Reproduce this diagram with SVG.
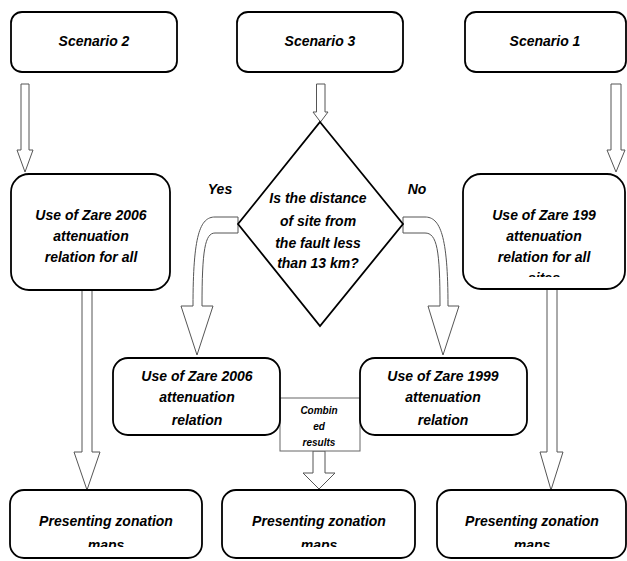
<svg xmlns="http://www.w3.org/2000/svg" width="627" height="561" viewBox="0 0 627 561">
<style>
.box{fill:#fff;stroke:#000;stroke-width:1.8}
.arr{fill:#fff;stroke:#555;stroke-width:1}
.t{font-family:"Liberation Sans",Arial,sans-serif;font-weight:bold;font-style:italic;font-size:14px;fill:#000;text-anchor:middle}
.s{font-family:"Liberation Sans Narrow","Liberation Sans",Arial,sans-serif;font-weight:bold;font-style:italic;font-size:10px;fill:#000;text-anchor:middle}
</style>
<defs>
<clipPath id="cL"><rect x="11" y="174" width="159" height="98"/></clipPath>
<clipPath id="cR"><rect x="463" y="174" width="163" height="103"/></clipPath>
<clipPath id="cB"><rect x="0" y="490" width="627" height="57"/></clipPath>
</defs>
<g id="connectors">
<path class="arr" d="M21,84 L29,84 L29,150 L33,150 L25,172 L17,150 L21,150 Z"/>
<path class="arr" d="M316.5,84 L325,84 L325,112 L328,112 L320.5,122 L313,112 L316.5,112 Z"/>
<path class="arr" d="M611,84 L621,84 L621,150 L625,150 L616,172 L607,150 L611,150 Z"/>
<path class="arr" d="M238,217 L215,217 C200,217 193,235 193,306 L181,306 L197,355 L213,306 L202,306 C202,250 205,233 215,233 L238,233 Z"/>
<path class="arr" d="M403,217 L425,217 C440,217 448,235 448,306 L459,306 L443,355 L428,306 L440,306 C440,250 437,233 425,233 L403,233 Z"/>
<path class="arr" d="M82,290 L92,290 L92,452 L100,452 L87,490 L74,452 L82,452 Z"/>
<path class="arr" d="M547,289 L557,289 L557,452 L563,452 L551,490 L540,452 L547,452 Z"/>
<path class="arr" d="M313,451 L325,451 L325,473 L335,473 L319,489 L303,473 L313,473 Z"/>
</g>
<g id="combined">
<rect x="280" y="398" width="80" height="53" fill="#fff" stroke="#666" stroke-width="1"/>
<text class="s" x="319" y="414">Combin</text>
<text class="s" x="319" y="430">ed</text>
<text class="s" x="319" y="446">results</text>
</g>
<g id="scenario2">
<rect class="box" x="11" y="12" width="166" height="60" rx="11"/>
<text class="t" x="94" y="46">Scenario 2</text>
</g>
<g id="scenario3">
<rect class="box" x="237" y="12" width="166" height="60" rx="11"/>
<text class="t" x="320" y="46">Scenario 3</text>
</g>
<g id="scenario1">
<rect class="box" x="465" y="12" width="161" height="60" rx="11"/>
<text class="t" x="545" y="46">Scenario 1</text>
</g>
<g id="zare2006all">
<rect class="box" x="11" y="174" width="159" height="116" rx="18"/>
<g clip-path="url(#cL)">
<text class="t" x="91" y="220">Use of Zare 2006</text>
<text class="t" x="91" y="241">attenuation</text>
<text class="t" x="91" y="262">relation for all</text>
<text class="t" x="91" y="283">sites</text>
</g>
</g>
<g id="zare1999all">
<rect class="box" x="463" y="174" width="162" height="115" rx="18"/>
<g clip-path="url(#cR)">
<text class="t" x="544" y="220">Use of Zare 199</text>
<text class="t" x="544" y="241">attenuation</text>
<text class="t" x="544" y="262">relation for all</text>
<text class="t" x="544" y="283">sites</text>
</g>
</g>
<g id="decision">
<polygon points="320,122 403,224 320,326 238,224" fill="#fff" stroke="#000" stroke-width="1.8"/>
<text class="t" x="318" y="203">Is the distance</text>
<text class="t" x="318" y="226">of site from</text>
<text class="t" x="318" y="248">the fault less</text>
<text class="t" x="318" y="268">than 13 km?</text>
</g>
<g id="labels">
<text class="t" x="220" y="194">Yes</text>
<text class="t" x="417" y="194">No</text>
</g>
<g id="zare2006">
<rect class="box" x="113" y="358" width="167" height="77" rx="15"/>
<text class="t" x="197" y="381">Use of Zare 2006</text>
<text class="t" x="197" y="402">attenuation</text>
<text class="t" x="197" y="425">relation</text>
</g>
<g id="zare1999">
<rect class="box" x="360" y="358" width="167" height="77" rx="15"/>
<text class="t" x="443" y="381">Use of Zare 1999</text>
<text class="t" x="443" y="402">attenuation</text>
<text class="t" x="443" y="425">relation</text>
</g>
<g id="maps2">
<rect class="box" x="10" y="490" width="192" height="68" rx="14"/>
<g clip-path="url(#cB)">
<text class="t" x="106" y="526">Presenting zonation</text>
<text class="t" x="106" y="550">maps</text>
</g>
</g>
<g id="maps3">
<rect class="box" x="222" y="490" width="193" height="68" rx="14"/>
<g clip-path="url(#cB)">
<text class="t" x="319" y="526">Presenting zonation</text>
<text class="t" x="319" y="550">maps</text>
</g>
</g>
<g id="maps1">
<rect class="box" x="437" y="490" width="189" height="68" rx="14"/>
<g clip-path="url(#cB)">
<text class="t" x="532" y="526">Presenting zonation</text>
<text class="t" x="532" y="550">maps</text>
</g>
</g>
</svg>
